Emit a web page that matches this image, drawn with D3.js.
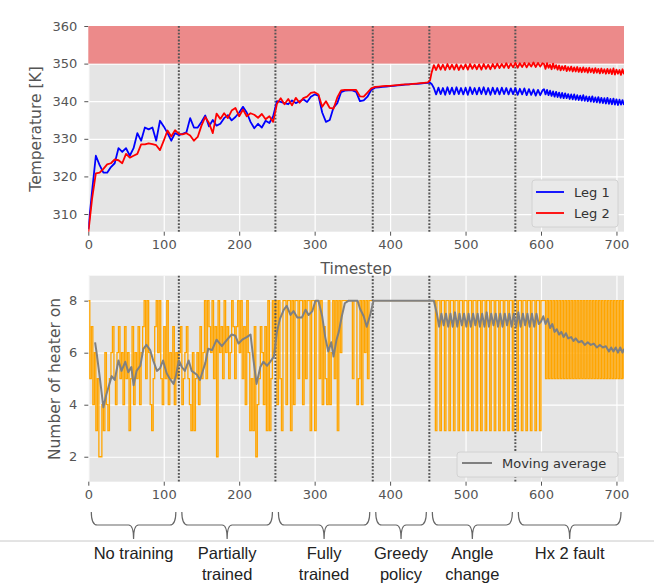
<!DOCTYPE html>
<html>
<head>
<meta charset="utf-8">
<script src="https://cdn.jsdelivr.net/npm/d3@7/dist/d3.min.js"></script>
<style>
  body { margin: 0; background: #fff; }
  svg { display: block; font-family: "DejaVu Sans", sans-serif; }
</style>
</head>
<body>
<svg id="chart" width="654" height="584"></svg>
<script>
// phase boundaries (timesteps) and their labels
const phases = [0, 120, 248, 377, 452, 566, 710];
const phaseLabels = [["No training"], ["Partially", "trained"], ["Fully", "trained"],
                     ["Greedy", "policy"], ["Angle", "change"], ["Hx 2 fault"]];

const xTicks = [0, 100, 200, 300, 400, 500, 600, 700];
const tempTicks = [310, 320, 330, 340, 350, 360];
const heaterTicks = [2, 4, 6, 8];

// temperature timesteps: every 5 up to 450, then the oscillating part, then the noisy tail
const tempSteps = [...d3.range(0, 451, 5), 453, 455, ...d3.range(458, 603, 3), ...d3.range(604, 711, 2)];

const leg1 = [
  306, 316, 325.5, 323, 321, 321, 322.5, 323.5, 327.5, 326.5,
  327.5, 325.5, 327.5, 331.5, 329.5, 333, 332.5, 333, 329.5, 334.8,
  333.3, 331.5, 329.5, 331.5, 331, 331.3, 331.7, 335.5, 333, 333,
  334.5, 336.2, 333.3, 335, 333.5, 334, 335.5, 336.3, 334.9, 335.8,
  337, 338.5, 337, 334.5, 332.8, 334, 333, 334.8, 334.2, 336,
  340, 339.8, 339.5, 339.2, 340.2, 339.5, 340, 340.5, 339.8, 341.2,
  341.8, 341.5, 337, 334.5, 335, 338.3, 339.5, 342.4, 342.8, 342.9,
  342.9, 342.5, 340, 340.2, 341.2, 343,
  343.6, 343.7, 343.8, 343.9, 344, 344.1, 344.2, 344.3, 344.4, 344.5, 344.6, 344.6, 344.7, 344.8, 344.9,
  344.9, 344.6,
  343.5, 341.8, 343.6, 341.9, 343.5, 341.7, 343.7, 341.9, 343.6, 341.8,
  343.7, 341.9, 343.5, 341.8, 343.6, 341.7, 343.7, 341.9, 343.5, 341.8,
  343.6, 341.9, 343.7, 341.8, 343.5, 341.7, 343.6, 341.9, 343.5, 341.8,
  343.6, 341.9, 343.5, 341.8, 343.4, 341.9, 343.5, 341.7, 343.3, 341.8,
  343.4, 341.6, 343.2, 341.7, 343.1, 341.5, 343.0, 341.6, 342.9,
  343.2, 341.8, 343.0, 341.6, 342.8, 341.4, 342.6, 341.2, 342.5, 341.1,
  342.3, 340.9, 342.2, 340.8, 342.1, 340.8, 341.9, 340.6, 341.8, 340.5,
  341.8, 340.4, 341.6, 340.3, 341.5, 340.2, 341.6, 340.1, 341.3, 340.0,
  341.2, 339.9, 341.3, 339.8, 341.0, 339.7, 341.1, 339.6, 340.9, 339.5,
  340.8, 339.4, 340.9, 339.3, 340.6, 339.2, 340.7, 339.1, 340.5, 339.0,
  340.4, 339.1, 340.3, 339.0
];

const leg2 = [
  305, 314, 320.8, 321, 322, 323.2, 323.5, 324.5, 324.3, 323.5,
  326, 325, 325.5, 326, 328.5, 328.5, 328.8, 328.6, 328.3, 327,
  329.5, 332.2, 330.6, 332.3, 331.3, 331.2, 331.5, 330.9, 329.5, 330.5,
  333.5, 335.8, 334.2, 331.5, 336.7, 335.3, 336.8, 335.5, 337.5, 338.2,
  336, 337.8, 336, 336.8, 336.4, 335.6, 336.6, 335.2, 336, 334.5,
  339.3, 340.8, 339.2, 340.6, 338.9, 340.9, 339.6, 340.8, 341.2, 342.2,
  342.4, 341.8, 338.5, 340, 338.2, 338, 341, 342.9, 343, 343,
  343, 343, 341.3, 341.2, 342.3, 343.4,
  343.8, 343.9, 344.0, 344.1, 344.1, 344.2, 344.3, 344.4, 344.5, 344.5, 344.6, 344.7, 344.8, 344.9, 345.0,
  345.6, 347.6,
  349.6, 348.3, 349.8, 348.4, 349.7, 348.3, 349.9, 348.5, 349.7, 348.4,
  349.8, 348.3, 349.6, 348.5, 349.8, 348.4, 349.9, 348.6, 349.7, 348.5,
  349.8, 348.4, 349.9, 348.6, 349.7, 348.5, 349.9, 348.7, 350.0, 348.8,
  349.9, 348.9, 350.1, 348.8, 350.0, 349.0, 350.2, 348.9, 350.1, 349.1,
  350.2, 349.0, 350.1, 349.2, 350.3, 349.1, 350.2, 349.2, 350.1,
  349.9, 348.6, 350.1, 348.9, 349.7, 348.5, 350.0, 348.7, 349.6, 348.4,
  349.5, 348.2, 349.3, 348.3, 349.4, 348.0, 349.1, 348.1, 349.2, 347.9,
  349.0, 347.9, 349.1, 347.8, 348.9, 347.7, 349.0, 347.8, 348.8, 347.6,
  348.9, 347.7, 348.7, 347.5, 348.8, 347.6, 348.6, 347.4, 348.7, 347.5,
  348.5, 347.3, 348.6, 347.4, 348.5, 347.2, 348.7, 347.1, 348.4, 347.3,
  348.3, 347.0, 348.5, 347.2
];

// number of heaters on, every 2 timesteps (0..710)
const heaterSteps = d3.range(0, 711, 2);
const heaters = [
  8,5,7,4,6,3,5,2,2,4,  3,6,4,3,5,6,7,5,4,6,  7,5,6,4,7,5,6,3,5,7,  4,6,5,7,4,6,7,8,5,8,
  6,4,3,5,7,8,6,8,5,4,  7,5,8,4,6,5,7,4,6,5,  6,7,4,5,6,7,5,4,3,6,  3,5,6,4,7,5,6,8,5,8,
  7,6,8,5,7,2,8,6,7,5,  8,6,7,5,6,8,7,5,7,8,  6,8,5,7,4,8,6,3,5,3,  7,2,4,5,7,6,4,7,3,8,
  3,5,8,6,8,4,8,5,3,8,  8,4,8,8,3,8,4,8,8,5,  8,8,4,8,5,8,8,3,8,8,  3,8,8,5,8,4,7,5,4,8,
  4,6,8,5,8,3,8,6,8,8,  8,8,8,8,8,5,8,8,4,5,  8,4,8,6,8,5,8,8,8,8,
  8,8,8,8,8,8,8,8,8,8,  8,8,8,8,8,8,8,8,8,8,  8,8,8,8,8,8,8,8,8,8,  8,8,8,8,8,8,8,8,8,8,
  3,8,8,3,8,8,3,8,8,3,8,8,3,8,8,3,8,8,3,8,8,3,8,8,
  3,8,8,3,8,8,3,8,8,3,8,8,3,8,8,3,8,8,3,8,8,3,8,8,
  3,8,8,3,8,8,3,8,8,3,8,8,3,8,8,3,8,8,3,8,8,3,8,8,
  8,5,8,5,8,5,8,5,8,5,8,5,8,5,8,5,8,5,8,5,8,5,8,5,8,5,8,
  5,8,5,8,5,8,5,8,5,8,5,8,5,8,5,8,5,8,5,8,5,8,5,8,5,8,5
];

// moving average of heaters
const maSteps = [
  9, 11, 15, 20, 24, 31, 35, 40, 44, 49, 53, 57, 60, 64, 69, 73, 77, 82, 86, 91,
  95, 99, 104, 108, 113, 116, 120, 124, 128, 133, 137, 144, 148, 155, 159, 164, 170, 177, 184, 190,
  195, 199, 204, 210, 215, 219, 223, 228, 232, 237, 241, 246, 250, 254, 259, 263, 268, 272, 277, 283,
  288, 292, 297, 301, 305, 310, 314, 318, 322, 325, 329, 332, 336, 340, 345, 357, 360, 365, 369, 374,
  378, 458, ...d3.range(462, 598, 3),
  600, 603, 606, 609, 612, 615, 618, 621, 624, 627, 630, 633, 636, 640, 643, 646, 650, 654, 658, 662,
  666, 670, 674, 678, 682, 686, 690, 693, 696, 699, 702, 705, 708, 710
];
const maValues = [
  6.4, 6.0, 5.1, 3.9, 4.4, 5.1, 4.95, 5.7, 5.3, 5.65, 5.25, 5.45, 4.75, 5.3, 5.5, 6.15, 6.3, 6.1, 5.7, 5.3,
  5.4, 5.7, 5.2, 5.0, 4.8, 5.1, 5.7, 5.45, 5.3, 5.7, 5.3, 5.15, 4.95, 5.6, 6.15, 6.1, 6.5, 6.25, 6.5, 6.7,
  6.65, 6.35, 6.5, 6.6, 6.7, 5.7, 4.8, 5.45, 5.65, 5.5, 5.65, 5.85, 6.8, 7.3, 7.65, 7.8, 7.45, 7.6, 7.35, 7.35,
  7.65, 7.45, 7.6, 8, 8, 7.4, 6.6, 6.05, 6.4, 5.85, 6.5, 6.8, 7.4, 7.9, 8, 8, 7.7, 7.4, 7.0, 7.5,
  8, 8,
  7.5, 7.0, 7.5, 7.05, 7.5, 7.0, 7.5, 7.0, 7.55, 7.0, 7.5, 7.05, 7.5, 7.0, 7.5, 7.0, 7.5, 7.05, 7.5, 7.0,
  7.5, 7.0, 7.55, 7.0, 7.5, 7.05, 7.5, 7.0, 7.5, 7.0, 7.5, 7.05, 7.5, 7.0, 7.5, 7.0, 7.55, 7.0, 7.5, 7.05,
  7.5, 7.0, 7.5, 7.0, 7.5, 7.1,
  7.2, 7.4, 7.1, 7.3, 6.95, 7.1, 6.8, 6.9, 6.7, 6.8, 6.6, 6.75, 6.55, 6.6, 6.45, 6.55, 6.4, 6.45, 6.3, 6.4,
  6.3, 6.35, 6.2, 6.3, 6.2, 6.25, 6.05, 6.2, 6.05, 6.2, 6.0, 6.2, 6.0, 6.15
];

const svg = d3.select("#chart");
const plotLeft = 88.3, plotRight = 624;
const tickColor = "#555";

const x = d3.scaleLinear().domain([0, 710]).range([plotLeft, plotRight]);
const yTemp = d3.scaleLinear().domain([305.3, 360]).range([231.7, 26]);
const yHeat = d3.scaleLinear().domain([1.04, 8.96]).range([481.7, 275.7]);

// draws background, grid, axes of one panel
function drawPanel(y, yTicks, id) {
    const [yBottom, yTop] = y.range();
    const g = svg.append("g");

    g.append("rect")
        .attr("x", plotLeft).attr("y", yTop)
        .attr("width", plotRight - plotLeft).attr("height", yBottom - yTop)
        .attr("fill", "#e5e5e5");

    svg.append("clipPath").attr("id", id)
        .append("rect")
        .attr("x", plotLeft).attr("y", yTop)
        .attr("width", plotRight - plotLeft).attr("height", yBottom - yTop);

    // grid
    g.append("g")
        .attr("transform", `translate(0,${yBottom})`)
        .call(d3.axisBottom(x).tickValues(xTicks).tickSize(-(yBottom - yTop)).tickFormat(""))
        .call(a => a.select(".domain").remove())
        .selectAll("line").attr("stroke", "#fff").attr("stroke-width", 1.2);
    g.append("g")
        .attr("transform", `translate(${plotLeft},0)`)
        .call(d3.axisLeft(y).tickValues(yTicks).tickSize(-(plotRight - plotLeft)).tickFormat(""))
        .call(a => a.select(".domain").remove())
        .selectAll("line").attr("stroke", "#fff").attr("stroke-width", 1.2);

    // axes
    const xa = g.append("g")
        .attr("transform", `translate(0,${yBottom})`)
        .call(d3.axisBottom(x).tickValues(xTicks).tickSize(4).tickPadding(4));
    const ya = g.append("g")
        .attr("transform", `translate(${plotLeft},0)`)
        .call(d3.axisLeft(y).tickValues(yTicks).tickSize(4).tickPadding(7));
    [xa, ya].forEach(a => {
        a.select(".domain").remove();
        a.selectAll("line").attr("stroke", tickColor);
        a.selectAll("text").attr("fill", tickColor)
            .style("font-size", "13px")
            .style("font-family", "DejaVu Sans, sans-serif");
    });
    return g;
}

function phaseLines(g, y) {
    const [yBottom, yTop] = y.range();
    g.selectAll(null)
        .data(phases.slice(1, -1))
        .enter().append("line")
        .attr("x1", d => x(d)).attr("x2", d => x(d))
        .attr("y1", yTop).attr("y2", yBottom)
        .attr("stroke", "#555")
        .attr("stroke-width", 2)
        .attr("stroke-dasharray", "1.8,1.6");
}

// ---------- top panel: temperatures ----------
const topPanel = drawPanel(yTemp, tempTicks, "clipTop");

topPanel.append("rect")
    .attr("x", plotLeft).attr("y", yTemp(360))
    .attr("width", plotRight - plotLeft)
    .attr("height", yTemp(350) - yTemp(360))
    .attr("fill", "#ec8a8a");

phaseLines(topPanel, yTemp);

const tempLine = vals => d3.line()
    .x((d, i) => x(tempSteps[i]))
    .y(d => yTemp(d))(vals);

const lines = topPanel.append("g").attr("clip-path", "url(#clipTop)");
lines.append("path").attr("d", tempLine(leg1))
    .attr("fill", "none").attr("stroke", "#0000ff").attr("stroke-width", 1.8)
    .attr("stroke-linejoin", "round");
lines.append("path").attr("d", tempLine(leg2))
    .attr("fill", "none").attr("stroke", "#ff0000").attr("stroke-width", 1.8)
    .attr("stroke-linejoin", "round");

// legend
const legTop = topPanel.append("g");
legTop.append("rect")
    .attr("x", 532).attr("y", 180).attr("width", 86).attr("height", 47).attr("rx", 3)
    .attr("fill", "#e9e9e9").attr("stroke", "#d2d2d2");
[["Leg 1", "#0000ff", 192], ["Leg 2", "#ff0000", 213]].forEach(([name, col, yy]) => {
    legTop.append("line").attr("x1", 536).attr("x2", 564).attr("y1", yy).attr("y2", yy)
        .attr("stroke", col).attr("stroke-width", 1.8);
    legTop.append("text").attr("x", 574).attr("y", yy + 4.5)
        .attr("fill", "#333").style("font-size", "13px").text(name);
});

svg.append("text")
    .attr("transform", "translate(41,129) rotate(-90)")
    .attr("text-anchor", "middle")
    .attr("fill", tickColor).style("font-size", "15.5px")
    .text("Temperature [K]");

svg.append("text")
    .attr("x", (plotLeft + plotRight) / 2).attr("y", 273.5)
    .attr("text-anchor", "middle")
    .attr("fill", tickColor).style("font-size", "15.5px")
    .text("Timestep");

// ---------- bottom panel: heaters ----------
const botPanel = drawPanel(yHeat, heaterTicks, "clipBot");

const heatG = botPanel.append("g").attr("clip-path", "url(#clipBot)");
heatG.append("path")
    .attr("d", d3.line().curve(d3.curveStepAfter)
        .x((d, i) => x(heaterSteps[i])).y(d => yHeat(d))(heaters))
    .attr("fill", "none").attr("stroke", "#ffa500").attr("stroke-width", 1.3);

phaseLines(botPanel, yHeat);

botPanel.append("g").attr("clip-path", "url(#clipBot)")
    .append("path")
    .attr("d", d3.line().x((d, i) => x(maSteps[i])).y(d => yHeat(d))(maValues))
    .attr("fill", "none").attr("stroke", "#808080").attr("stroke-width", 2)
    .attr("stroke-linejoin", "round");

const legBot = botPanel.append("g");
legBot.append("rect")
    .attr("x", 457).attr("y", 452).attr("width", 161).attr("height", 25).attr("rx", 3)
    .attr("fill", "#e9e9e9").attr("stroke", "#d2d2d2");
legBot.append("line").attr("x1", 462).attr("x2", 492).attr("y1", 463).attr("y2", 463)
    .attr("stroke", "#808080").attr("stroke-width", 2);
legBot.append("text").attr("x", 502).attr("y", 468)
    .attr("fill", "#333").style("font-size", "13px").text("Moving average");

svg.append("text")
    .attr("transform", "translate(60,379) rotate(-90)")
    .attr("text-anchor", "middle")
    .attr("fill", tickColor).style("font-size", "15.5px")
    .text("Number of heater on");

// ---------- phase brackets ----------
svg.append("line")
    .attr("x1", 0).attr("x2", 654).attr("y1", 541).attr("y2", 541)
    .attr("stroke", "#c8c8c8").attr("stroke-width", 1);

const brackets = svg.append("g");
phaseLabels.forEach((lab, i) => {
    const x1 = x(phases[i]) + 3, x2 = x(phases[i + 1]) - 3, cx = (x1 + x2) / 2;
    const yTop = 512, yMid = 525, yTip = 539;
    brackets.append("path")
        .attr("d", `M${x1},${yTop} Q${x1},${yMid} ${x1 + 6},${yMid} L${cx - 5},${yMid}
                    Q${cx},${yMid} ${cx},${yTip} Q${cx},${yMid} ${cx + 5},${yMid}
                    L${x2 - 6},${yMid} Q${x2},${yMid} ${x2},${yTop}`)
        .attr("fill", "none").attr("stroke", "#666").attr("stroke-width", 1.2);
    const t = brackets.append("text")
        .attr("text-anchor", "middle")
        .attr("fill", "#222")
        .style("font-family", "Liberation Sans, Arial, sans-serif")
        .style("font-size", "16.5px");
    lab.forEach((s, j) => {
        t.append("tspan").attr("x", cx).attr("y", 559 + j * 21).text(s);
    });
});
</script>
</body>
</html>
